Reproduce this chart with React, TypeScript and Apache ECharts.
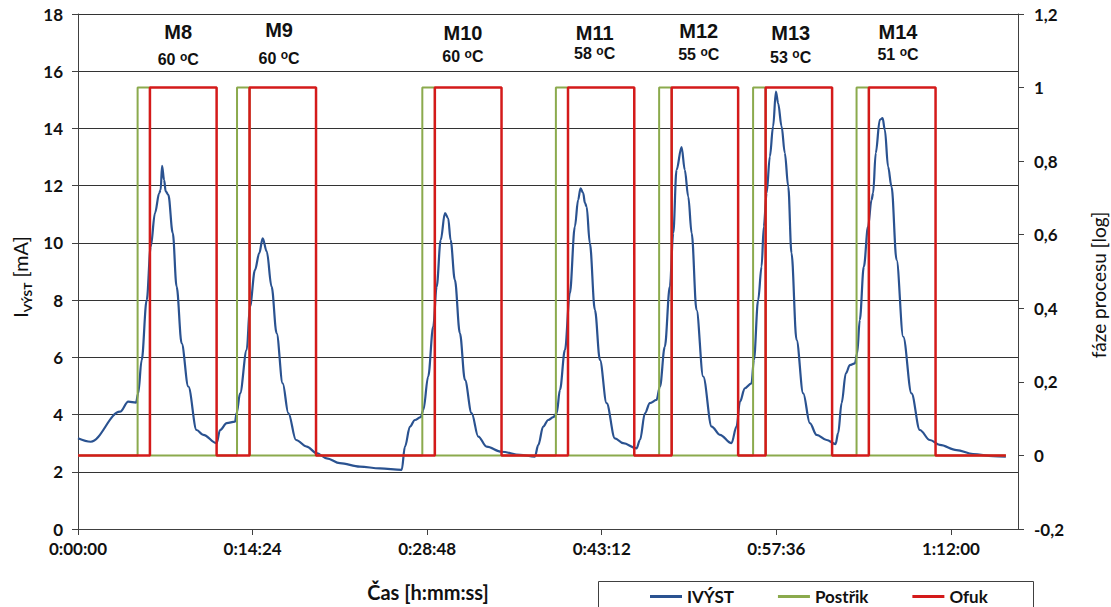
import React, { useEffect, useRef } from "react";
import * as echarts from "echarts";

// ---- data ----
// IVÝST current [mA] over time [s]
const timeSec = [0, 63, 208, 249, 287, 298, 315, 340, 360, 381, 402, 409, 416, 426, 434, 447, 469, 488, 513, 546, 587, 620, 686, 703, 736, 777, 785, 802, 835, 851, 876, 897, 914, 934, 958, 983, 1013, 1041, 1079, 1132, 1181, 1231, 1296, 1395, 1494, 1602, 1618, 1643, 1667, 1696, 1709, 1733, 1758, 1775, 1795, 1816, 1832, 1844, 1865, 1890, 1915, 1948, 1981, 2022, 2096, 2187, 2261, 2278, 2302, 2327, 2352, 2369, 2385, 2410, 2434, 2459, 2475, 2487, 2500, 2509, 2517, 2533, 2558, 2583, 2616, 2657, 2698, 2764, 2781, 2806, 2830, 2863, 2880, 2904, 2929, 2946, 2962, 2987, 3003, 3020, 3037, 3061, 3094, 3136, 3177, 3234, 3259, 3276, 3300, 3333, 3345, 3366, 3383, 3394, 3408, 3424, 3440, 3454, 3465, 3482, 3498, 3515, 3531, 3556, 3589, 3622, 3655, 3705, 3749, 3762, 3779, 3800, 3820, 3845, 3856, 3869, 3889, 3910, 3927, 3935, 3948, 3968, 3982, 3993, 4009, 4026, 4051, 4084, 4125, 4166, 4216, 4265, 4348, 4430, 4529, 4592];
const ivyst = [3.17, 3.05, 4.1, 4.45, 4.42, 4.74, 5.9, 8.0, 9.87, 11.04, 11.74, 11.85, 12.69, 12.2, 11.8, 11.68, 10.34, 8.47, 6.49, 4.98, 3.46, 3.29, 3.0, 3.46, 3.7, 3.75, 4.05, 4.74, 6.26, 7.77, 9.06, 9.64, 10.16, 9.7, 8.47, 6.84, 5.09, 4.05, 3.11, 2.88, 2.65, 2.47, 2.3, 2.18, 2.12, 2.07, 2.88, 3.58, 3.81, 3.91, 4.16, 5.33, 7.07, 8.47, 10.1, 11.04, 10.86, 10.1, 8.71, 6.84, 5.21, 4.05, 3.23, 2.88, 2.7, 2.59, 2.53, 2.94, 3.58, 3.81, 3.91, 4.05, 4.86, 6.26, 8.24, 10.57, 11.5, 11.91, 11.74, 11.39, 11.27, 9.99, 7.66, 5.91, 4.4, 3.17, 3.0, 2.82, 3.11, 4.05, 4.4, 4.51, 4.98, 6.37, 8.47, 10.34, 12.55, 13.35, 12.55, 11.62, 10.34, 7.66, 5.33, 3.58, 3.29, 3.0, 3.58, 4.45, 4.92, 5.09, 5.91, 8.0, 9.17, 10.57, 11.74, 13.02, 14.07, 15.29, 14.88, 14.07, 13.14, 11.97, 9.64, 6.61, 4.74, 3.7, 3.29, 3.11, 2.97, 3.35, 4.4, 5.44, 5.73, 5.79, 6.14, 7.31, 9.17, 10.57, 11.5, 11.74, 13.14, 14.3, 14.36, 13.95, 12.67, 11.97, 9.41, 6.72, 4.74, 3.46, 3.11, 2.94, 2.76, 2.62, 2.55, 2.53];

// process phases (0/1), switching times [s]
const postrikOn = [295, 787, 1704, 2365, 2876, 3341, 3853];
const postrikOff = [356, 849, 1766, 2425, 2938, 3403, 3914];
const ofukOn = [356, 849, 1766, 2425, 2938, 3403, 3914];
const ofukOff = [686, 1178, 2096, 2753, 3267, 3732, 4244];
const endTime = 4592;

// measurement annotations
const tests = ["M8", "M9", "M10", "M11", "M12", "M13", "M14"];
const temps = [60, 60, 60, 58, 55, 53, 51];
const testTimes = [496, 995, 1905, 2557, 3072, 3527, 4058];
const testNameLevel = [17.36, 17.43, 17.35, 17.34, 17.41, 17.34, 17.38];
const testTempLevel = [16.4, 16.45, 16.51, 16.61, 16.57, 16.49, 16.57];

// axes
const xTicks = [0, 864, 1728, 2592, 3456, 4320];
const xMax = 4652;
const leftMin = 0, leftMax = 18, leftStep = 2;
const rightMin = -0.2, rightMax = 1.2, rightStep = 0.2;

const seriesNames = ["IVÝST", "Postřik", "Ofuk"];
const colors = ["#2A5290", "#8BAA4D", "#D41A1A"];

function pulses(on: number[], off: number[]) {
  const d: number[][] = [[0, 0]];
  for (let i = 0; i < on.length; i++) {
    d.push([on[i], 1]);
    d.push([off[i], 0]);
  }
  d.push([endTime, 0]);
  return d;
}

function hms(v: number) {
  const s = Math.round(v);
  const h = Math.floor(s / 3600);
  const m = Math.floor((s % 3600) / 60);
  const sec = s % 60;
  return `${h}:${String(m).padStart(2, "0")}:${String(sec).padStart(2, "0")}`;
}

const labelFont = "Lato";

export default function App() {
  const ref = useRef<HTMLDivElement>(null);
  useEffect(() => {
    if (!ref.current) return;
    const chart = echarts.init(ref.current, undefined, { renderer: "svg" });
    const axisLabelStyle = {
      fontFamily: labelFont,
      fontWeight: "bold" as const,
      fontSize: 17,
      color: "#111",
    };
    const option: any = {
      animation: false,
      backgroundColor: "#fff",
      grid: { left: 78, right: 93, top: 14, bottom: 78, containLabel: false },
      legend: {
        data: seriesNames,
        left: 650,
        top: 588,
        padding: 0,
        itemGap: 44,
        itemWidth: 32,
        itemHeight: 3,
        icon: "rect",
        textStyle: { fontFamily: labelFont, fontWeight: "bold", fontSize: 17, color: "#111" },
      },
      xAxis: {
        type: "value",
        min: 0,
        max: xMax,
        interval: 864,
        axisLine: { show: true, lineStyle: { color: "#404040", width: 1 } },
        axisTick: { show: true, length: 6, lineStyle: { color: "#404040" }, customValues: xTicks },
        axisLabel: { ...axisLabelStyle, margin: 11, customValues: xTicks, formatter: (v: number) => hms(v) },
        splitLine: { show: false },
      },
      yAxis: [
        {
          type: "value",
          min: leftMin,
          max: leftMax,
          interval: leftStep,
          axisLine: { show: true, lineStyle: { color: "#404040", width: 1 } },
          axisTick: { show: true, length: 6, lineStyle: { color: "#404040" } },
          axisLabel: { ...axisLabelStyle, margin: 15 },
          splitLine: { show: true, lineStyle: { color: "#333", width: 1 } },
        },
        {
          type: "value",
          position: "right",
          min: rightMin,
          max: rightMax,
          interval: rightStep,
          axisLine: { show: true, lineStyle: { color: "#404040", width: 1 } },
          axisTick: { show: true, length: 6, lineStyle: { color: "#404040" } },
          axisLabel: {
            ...axisLabelStyle,
            margin: 16,
            formatter: (v: number) => String(Number(v.toFixed(1))).replace(".", ","),
          },
          splitLine: { show: false },
        },
      ],
      graphic: [
        {
          type: "rect",
          z: 1,
          shape: { x: 598.5, y: 581.5, width: 435, height: 40 },
          style: { fill: "#fff", stroke: "#404040", lineWidth: 1 },
        },
        {
          type: "text",
          x: 20,
          y: 277,
          rotation: Math.PI / 2,
          style: {
            text: "{a|I}{b|VÝST}{a| [mA]}",
            align: "center",
            verticalAlign: "middle",
            fill: "#111",
            rich: {
              a: { fontFamily: labelFont, fontSize: 20, lineHeight: 26, fill: "#111" },
              b: { fontFamily: labelFont, fontSize: 12, lineHeight: 12, verticalAlign: "bottom", fill: "#111", fontWeight: "bold" },
            },
          },
        },
        {
          type: "text",
          x: 1098,
          y: 285,
          rotation: Math.PI / 2,
          style: {
            text: "fáze procesu [log]",
            align: "center",
            verticalAlign: "middle",
            fill: "#111",
            font: `19px ${labelFont}`,
          },
        },
        {
          type: "text",
          x: 428,
          y: 592,
          style: {
            text: "Čas [h:mm:ss]",
            align: "center",
            verticalAlign: "middle",
            fill: "#111",
            font: `bold 20px ${labelFont}`,
          },
        },
      ],
      series: [
        {
          name: seriesNames[0],
          type: "line",
          yAxisIndex: 0,
          data: timeSec.map((t, i) => [t, ivyst[i]]),
          showSymbol: false,
          smooth: 0.35,
          smoothMonotone: "x",
          lineStyle: { color: colors[0], width: 2.2 },
          itemStyle: { color: colors[0] },
          z: 2,
        },
        {
          name: seriesNames[1],
          type: "line",
          yAxisIndex: 1,
          step: "end",
          data: pulses(postrikOn, postrikOff),
          showSymbol: false,
          lineStyle: { color: colors[1], width: 2 },
          itemStyle: { color: colors[1] },
          z: 3,
        },
        {
          name: seriesNames[2],
          type: "line",
          yAxisIndex: 1,
          step: "end",
          data: pulses(ofukOn, ofukOff),
          showSymbol: false,
          lineStyle: { color: colors[2], width: 2.5 },
          itemStyle: { color: colors[2] },
          z: 4,
        },
        {
          name: "tests",
          type: "scatter",
          yAxisIndex: 0,
          data: tests.map((n, i) => ({ value: [testTimes[i], testNameLevel[i]], name: n })),
          symbolSize: 1,
          itemStyle: { color: "rgba(0,0,0,0)", opacity: 1 },
          silent: true,
          label: {
            show: true,
            position: "inside",
            formatter: (p: any) => p.name,
            fontFamily: "Liberation Sans",
            fontWeight: "bold",
            fontSize: 20,
            color: "#111",
          },
          z: 5,
        },
        {
          name: "temps",
          type: "scatter",
          yAxisIndex: 0,
          data: temps.map((t, i) => ({ value: [testTimes[i], testTempLevel[i]], name: String(t) })),
          symbolSize: 1,
          itemStyle: { color: "rgba(0,0,0,0)", opacity: 1 },
          silent: true,
          label: {
            show: true,
            position: "inside",
            formatter: (p: any) => `{t|${p.name} }{s|o}{t|C}`,
            rich: {
              t: { fontFamily: "Liberation Sans", fontWeight: "bold", fontSize: 16, lineHeight: 18, color: "#111" },
              s: { fontFamily: "Liberation Sans", fontWeight: "bold", fontSize: 12, lineHeight: 13, verticalAlign: "top", color: "#111" },
            },
          },
          z: 5,
        },
      ],
    };
    chart.setOption(option);
    return () => chart.dispose();
  }, []);
  return (
    <div
      ref={ref}
      style={{ position: "fixed", left: 0, top: 0, width: 1111, height: 607, background: "#fff" }}
    />
  );
}
